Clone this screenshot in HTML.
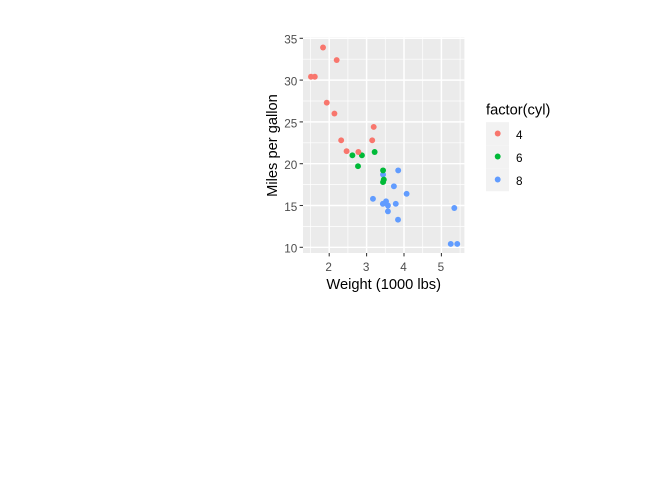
<!DOCTYPE html>
<html>
<head>
<meta charset="utf-8">
<title>Miles per gallon vs weight</title>
<style>
html,body{margin:0;padding:0;background:#fff;width:672px;height:480px;overflow:hidden}
svg{display:block;font-family:"Liberation Sans",Arial,sans-serif}
</style>
</head>
<body>
<svg id="chart" width="672" height="480" viewBox="0 0 672 480" xmlns="http://www.w3.org/2000/svg">
<rect x="0" y="0" width="672" height="480" fill="#fff"/>
<rect x="303" y="37.3" width="161.4" height="215.7" fill="#EBEBEB"/>
<g id="grid"></g>
<g id="xticks"></g>
<g id="yticks"></g>
<g id="points"></g>
<text x="383.7" y="289" text-anchor="middle" font-size="14.67" fill="#000">Weight (1000 lbs)</text>
<text transform="translate(277 145.5) rotate(-90)" text-anchor="middle" font-size="14.67" fill="#000">Miles per gallon</text>
<g id="legend">
<text x="486" y="114.5" font-size="14.67" fill="#000">factor(cyl)</text>
</g>
</svg>
<script>
const wt = [2.62,2.875,2.32,3.215,3.44,3.46,3.57,3.19,3.15,3.44,3.44,4.07,3.73,3.78,5.25,5.424,5.345,2.2,1.615,1.835,2.465,3.52,3.435,3.84,3.845,1.935,2.14,1.513,3.17,2.77,3.57,2.78];
const mpg = [21,21,22.8,21.4,18.7,18.1,14.3,24.4,22.8,19.2,17.8,16.4,17.3,15.2,10.4,10.4,14.7,32.4,30.4,33.9,21.5,15.5,15.2,13.3,19.2,27.3,26,30.4,15.8,19.7,15,21.4];
const cyl = [6,6,4,6,8,6,8,4,4,6,6,8,8,8,8,8,8,4,4,4,4,8,8,8,8,4,4,4,8,6,8,4];
const xTickLabels = [2,3,4,5];
const yTickLabels = [10,15,20,25,30,35];
const xMinorTicks = [1.5,2.5,3.5,4.5,5.5];
const yMinorTicks = [12.5,17.5,22.5,27.5,32.5];
const legendLevels = [4,6,8];

const NS = 'http://www.w3.org/2000/svg';
const colorFor = {4:'#F8766D',6:'#00BA38',8:'#619CFF'};
const panel = {l:303,r:464.4,t:37.3,b:253};
function xScale(v){return 329.2 + (v-2)*37.4;}
function yScale(v){return 247.3 - (v-10)*8.36;}
function make(tag,attrs){
  const el = document.createElementNS(NS,tag);
  for(const k in attrs){el.setAttribute(k,attrs[k]);}
  return el;
}
const grid = document.getElementById('grid');
const xAxis = document.getElementById('xticks');
const yAxis = document.getElementById('yticks');
const pts = document.getElementById('points');
const legend = document.getElementById('legend');

xMinorTicks.forEach(function(v){
  const x = xScale(v);
  if(x<panel.l||x>panel.r) return;
  const el = make('line',{x1:x,x2:x,y1:panel.t,y2:panel.b,stroke:'#fff','stroke-width':0.7});
  
  
  grid.appendChild(el);
});
yMinorTicks.forEach(function(v){
  const y = yScale(v);
  const el = make('line',{x1:panel.l,x2:panel.r,y1:y,y2:y,stroke:'#fff','stroke-width':0.7});
  
  
  grid.appendChild(el);
});
xTickLabels.forEach(function(v){
  const x = xScale(v);
  const g = make('line',{x1:x,x2:x,y1:panel.t,y2:panel.b,stroke:'#fff','stroke-width':1.45});
  
  
  grid.appendChild(g);
  const t = make('line',{x1:x,x2:x,y1:panel.b,y2:panel.b+3.4,stroke:'#333','stroke-width':1.05});
  
  
  xAxis.appendChild(t);
  const l = make('text',{x:x-0.5,y:271,'text-anchor':'middle','font-size':11.73,fill:'#4D4D4D'});
  
  
  l.textContent = v;
  xAxis.appendChild(l);
});
yTickLabels.forEach(function(v){
  const y = yScale(v);
  const g = make('line',{x1:panel.l,x2:panel.r,y1:y,y2:y,stroke:'#fff','stroke-width':1.45});
  
  
  grid.appendChild(g);
  const t = make('line',{x1:panel.l-3.4,x2:panel.l,y1:y,y2:y,stroke:'#333','stroke-width':1.05});
  
  
  yAxis.appendChild(t);
  const l = make('text',{x:297.3,y:y+5.4,'text-anchor':'end','font-size':11.73,fill:'#4D4D4D'});
  
  
  l.textContent = v;
  yAxis.appendChild(l);
});
wt.forEach(function(w,i){
  const c = make('circle',{cx:xScale(w),cy:yScale(mpg[i]),r:2.95,fill:colorFor[cyl[i]]});
  
  
  pts.appendChild(c);
});
legendLevels.forEach(function(lv,i){
  const top = 122.2 + i*23;
  const k = make('rect',{x:486,y:top,width:23,height:23,fill:'#F2F2F2'});
  
  
  legend.appendChild(k);
  const c = make('circle',{cx:497.7,cy:top+11.3,r:2.95,fill:colorFor[lv]});
  
  
  legend.appendChild(c);
  const t = make('text',{x:516,y:top+16.6,'font-size':11.73,fill:'#000'});
  
  
  t.textContent = lv;
  legend.appendChild(t);
});
</script>
</body>
</html>
